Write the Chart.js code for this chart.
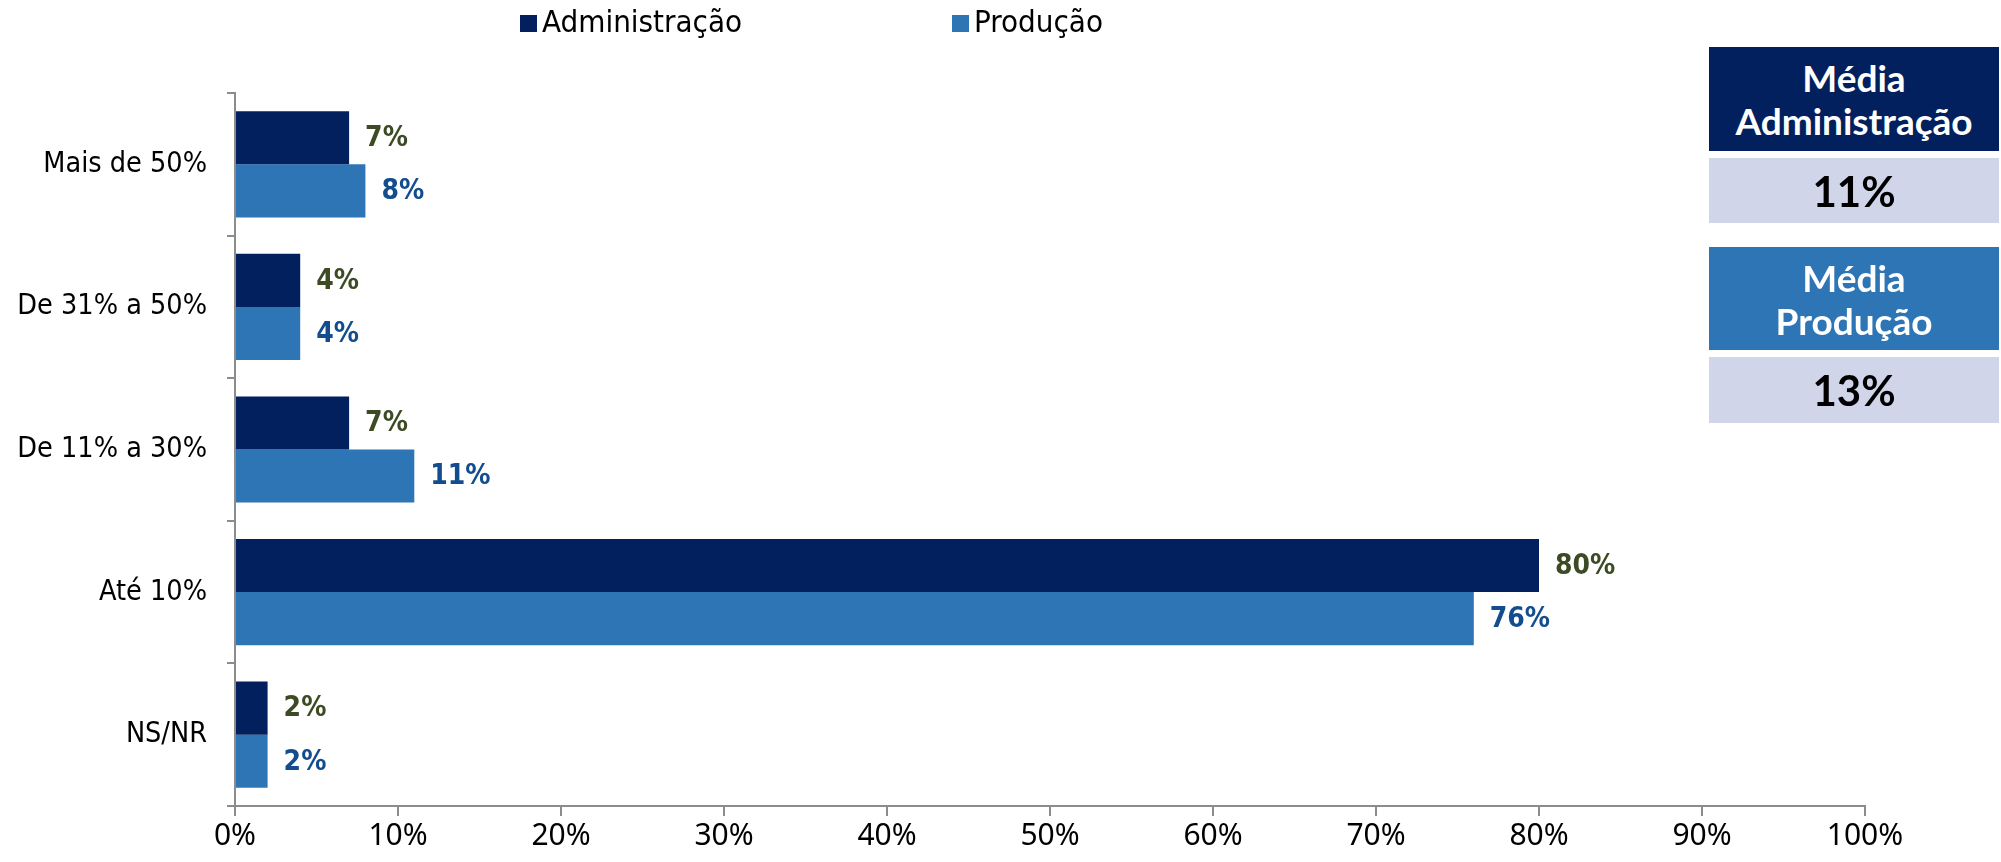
<!DOCTYPE html>
<html>
<head>
<meta charset="utf-8">
<script src="https://cdn.jsdelivr.net/npm/chart.js@4"></script>
<style>
  html, body { margin: 0; padding: 0; background: #fff; }
  #wrap { position: relative; width: 2001px; height: 862px; overflow: hidden; }
  canvas { position: absolute; left: 0; top: 0; }
  .box { position: absolute; left: 1709px; width: 290px; display: flex; align-items: center; justify-content: center; text-align: center; font-family: Lato, "Open Sans", sans-serif; font-weight: 700; }
  .hdr { color: #fff; font-size: 37px; line-height: 43px; }
  .val { color: #000; font-size: 42px; background: #d0d5ea; }
</style>
</head>
<body>
<div id="wrap">
  <canvas id="c" width="2001" height="862"></canvas>
</div>
<script>
const categories = ["Mais de 50%", "De 31% a 50%", "De 11% a 30%", "Até 10%", "NS/NR"];
const seriesNames = ["Administração", "Produção"];
const adminValues = [7, 4, 7, 80, 2];
const producaoValues = [8, 4, 11, 76, 2];
const xTicks = [0, 10, 20, 30, 40, 50, 60, 70, 80, 90, 100];
const averageTitles = ["Média\nAdministração", "Média\nProdução"];
const averageValues = [11, 13];

const barColors = ["#03205e", "#2e75b6"];
const labelColors = ["#3d4b25", "#134d8d"];

// Right-hand summary boxes (real text)
const wrap = document.getElementById('wrap');
const boxLayout = [
  { hTop: 47, hH: 104, vTop: 158, vH: 65 },
  { hTop: 247, hH: 103, vTop: 357, vH: 66 }
];
averageTitles.forEach((t, i) => {
  const L = boxLayout[i];
  const h = document.createElement('div');
  h.className = 'box hdr';
  h.style.top = L.hTop + 'px'; h.style.height = L.hH + 'px';
  h.style.background = barColors[i];
  h.innerHTML = t.split('\n').join('<br>');
  wrap.appendChild(h);
  const v = document.createElement('div');
  v.className = 'box val';
  v.style.top = L.vTop + 'px'; v.style.height = L.vH + 'px';
  v.textContent = averageValues[i] + '%';
  wrap.appendChild(v);
});

const condensed = '"DejaVu Sans Condensed", "DejaVu Sans", sans-serif';

const legendPlugin = {
  id: 'customLegend',
  afterDraw(chart) {
    const ctx = chart.ctx;
    const xs = [520, 952];
    ctx.save();
    ctx.font = '31px ' + condensed;
    ctx.textBaseline = 'middle';
    chart.data.datasets.forEach((ds, i) => {
      ctx.fillStyle = ds.backgroundColor;
      ctx.fillRect(xs[i], 15, 17, 17);
      ctx.fillStyle = '#000';
      ctx.fillText(ds.label, xs[i] + 22, 24);
    });
    ctx.restore();
  }
};

const valueLabels = {
  id: 'valueLabels',
  afterDatasetsDraw(chart) {
    const ctx = chart.ctx;
    ctx.save();
    ctx.font = 'bold 28px ' + condensed;
    ctx.textBaseline = 'middle';
    chart.data.datasets.forEach((ds, i) => {
      const meta = chart.getDatasetMeta(i);
      ctx.fillStyle = labelColors[i];
      meta.data.forEach((bar, j) => {
        ctx.fillText(ds.data[j] + '%', bar.x + 16, bar.y + 1);
      });
    });
    ctx.restore();
  }
};

new Chart(document.getElementById('c'), {
  type: 'bar',
  data: {
    labels: categories,
    datasets: [
      { label: seriesNames[0], data: adminValues, backgroundColor: barColors[0], categoryPercentage: 0.745, barPercentage: 1.0 },
      { label: seriesNames[1], data: producaoValues, backgroundColor: barColors[1], categoryPercentage: 0.745, barPercentage: 1.0 }
    ]
  },
  options: {
    indexAxis: 'y',
    responsive: false,
    animation: false,
    layout: { padding: { top: 93, right: 136, bottom: 0, left: 0 } },
    plugins: { legend: { display: false }, tooltip: { enabled: false } },
    scales: {
      x: {
        min: 0, max: 100,
        afterBuildTicks(scale) { scale.ticks = xTicks.map(v => ({ value: v })); },
        afterFit(scale) { scale.height = 56; },
        grid: { drawOnChartArea: false, drawTicks: true, tickLength: 10, color: '#8c8c8c', lineWidth: 2 },
        border: { color: '#8c8c8c', width: 2 },
        ticks: { callback: v => v + '%', color: '#000', font: { family: '"Noto Sans", sans-serif', size: 30 }, padding: 2, maxRotation: 0 }
      },
      y: {
        afterFit(scale) { scale.width = 235; },
        grid: { drawOnChartArea: false, drawTicks: true, tickLength: 8, color: '#8c8c8c', lineWidth: 2, offset: true },
        border: { color: '#8c8c8c', width: 2 },
        ticks: { color: '#000', font: { family: condensed, size: 28.5 }, padding: 20 }
      }
    }
  },
  plugins: [legendPlugin, valueLabels]
});
</script>
</body>
</html>
